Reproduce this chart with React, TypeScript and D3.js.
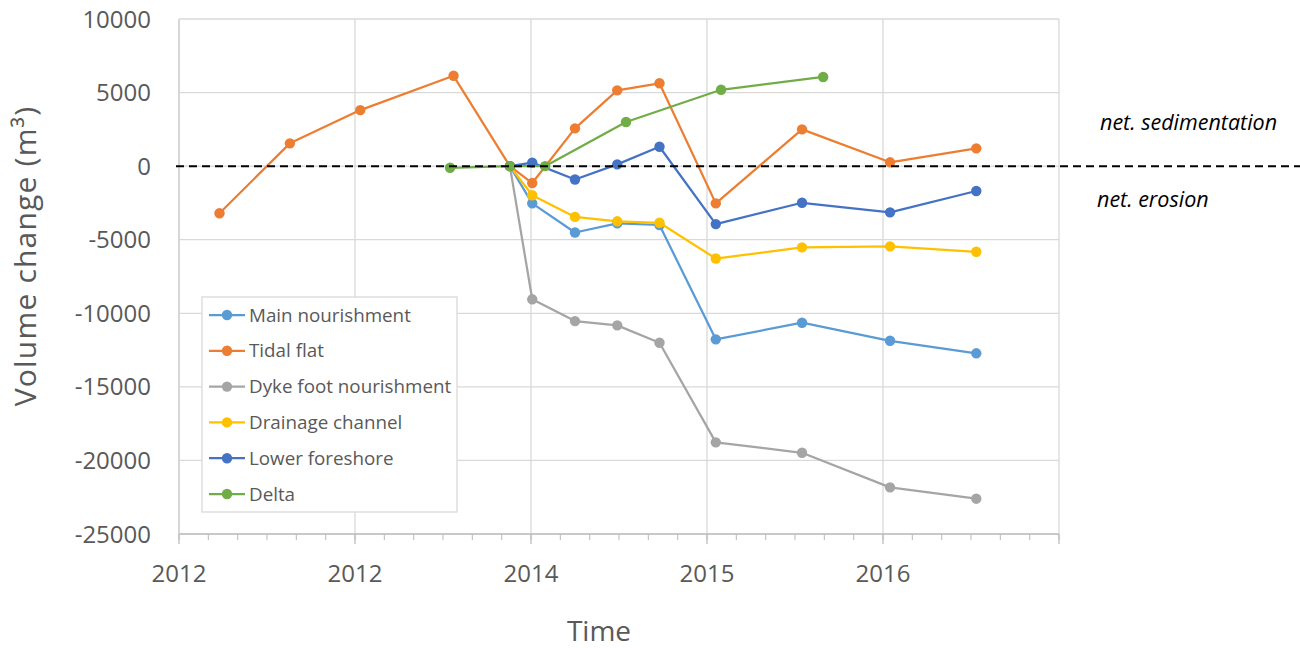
import React from "react";
import * as d3 from "d3";

// ---------- data ----------
const xTickValues = [2012, 2013, 2014, 2015, 2016, 2017];
const xTickLabels = ["2012", "2012", "2014", "2015", "2016", ""];
const yTickValues = [-25000, -20000, -15000, -10000, -5000, 0, 5000, 10000];

// survey dates (decimal years)
const surveyDates = [2013.88, 2014.007, 2014.25, 2014.49, 2014.73, 2015.05, 2015.54, 2016.04, 2016.53];
const tidalDates = [2012.23, 2012.63, 2013.03, 2013.56, ...surveyDates];
const deltaDates = [2013.54, 2013.88, 2014.08, 2014.54, 2015.08, 2015.66];

const mainNourishment = [0, -2530, -4510, -3890, -4000, -11770, -10640, -11870, -12720];
const tidalFlat = [-3200, 1550, 3810, 6140, 0, -1150, 2570, 5150, 5630, -2530, 2500, 260, 1210];
const dykeFoot = [0, -9050, -10530, -10820, -12000, -18770, -19480, -21830, -22600];
const drainageChannel = [0, -1980, -3450, -3750, -3850, -6280, -5520, -5450, -5820];
const lowerForeshore = [0, 240, -910, 120, 1320, -3940, -2490, -3140, -1690];
const delta = [-110, 0, 0, 3000, 5190, 6060];

const seriesNames = ["Main nourishment", "Tidal flat", "Dyke foot nourishment", "Drainage channel", "Lower foreshore", "Delta"];
const seriesColors = ["#5B9BD5", "#ED7D31", "#A5A5A5", "#FFC000", "#4472C4", "#70AD47"];
const seriesDates = [surveyDates, tidalDates, surveyDates, surveyDates, surveyDates, deltaDates];
const seriesValues = [mainNourishment, tidalFlat, dykeFoot, drainageChannel, lowerForeshore, delta];

// ---------- layout ----------
const W = 1300;
const H = 648;
const plotLeft = 179;
const plotRight = 1059;
const plotTop = 19;
const plotBottom = 534;
const FONT = "'Open Sans', 'Liberation Sans', sans-serif";

export default function App() {
  const x = d3.scaleLinear().domain([2012, 2017]).range([plotLeft, plotRight]);
  const y = d3.scaleLinear().domain([-25000, 10000]).range([plotBottom, plotTop]);

  const line = d3
    .line<[number, number]>()
    .x((d) => x(d[0]))
    .y((d) => y(d[1]));

  const minorTicks = d3.range(0, 31).map((i) => 2012 + i / 6).filter((v) => v <= 2017.0001);

  const legendX = 202;
  const legendY = 297;
  const legendW = 255;
  const legendH = 215;
  const rowGap = 35.8;

  return (
    <svg
      width={W}
      height={H}
      viewBox={`0 0 ${W} ${H}`}
      style={{ position: "absolute", left: 0, top: 0, background: "#fff" }}
    >
      <rect x={0} y={0} width={W} height={H} fill="#fff" />
      {/* horizontal gridlines */}
      {yTickValues.map((v) => (
        <line key={"hg" + v} x1={plotLeft} x2={plotRight} y1={y(v)} y2={y(v)} stroke="#D9D9D9" strokeWidth={1.3} />
      ))}
      {/* vertical gridlines */}
      {xTickValues.map((v) => (
        <line key={"vg" + v} x1={x(v)} x2={x(v)} y1={plotTop} y2={plotBottom} stroke="#D9D9D9" strokeWidth={1.3} />
      ))}
      {/* y axis line */}
      <line x1={plotLeft} x2={plotLeft} y1={plotTop} y2={plotBottom} stroke="#D0D0D0" strokeWidth={1.3} />
      {/* x axis line */}
      <line x1={plotLeft} x2={plotRight} y1={plotBottom} y2={plotBottom} stroke="#BFBFBF" strokeWidth={1.3} />
      {/* x ticks */}
      {xTickValues.map((v) => (
        <line key={"mt" + v} x1={x(v)} x2={x(v)} y1={plotBottom} y2={plotBottom + 10} stroke="#BFBFBF" strokeWidth={1.3} />
      ))}
      {minorTicks.map((v, i) => (
        <line key={"nt" + i} x1={x(v)} x2={x(v)} y1={plotBottom} y2={plotBottom + 6} stroke="#BFBFBF" strokeWidth={1.1} />
      ))}
      {/* y tick labels */}
      {yTickValues.map((v) => (
        <text
          key={"yl" + v}
          x={151}
          y={y(v) + 8.5}
          textAnchor="end"
          fontFamily={FONT}
          fontSize={24}
          fill="#595959"
        >
          {v}
        </text>
      ))}
      {/* x tick labels */}
      {xTickValues.map((v, i) => (
        <text
          key={"xl" + v}
          x={x(v)}
          y={582}
          textAnchor="middle"
          fontFamily={FONT}
          fontSize={24}
          fill="#595959"
        >
          {xTickLabels[i]}
        </text>
      ))}
      {/* axis titles */}
      <text x={599} y={641} textAnchor="middle" fontFamily={FONT} fontSize={28} fill="#595959">
        Time
      </text>
      <text
        transform={`translate(36, 256) rotate(-90)`}
        textAnchor="middle"
        fontFamily={FONT}
        fontSize={30}
        letterSpacing={1.2}
        fill="#595959"
      >
        Volume change (m³)
      </text>

      {/* series */}
      {seriesValues.map((vals, si) => {
        const pts: [number, number][] = vals.map((v, i) => [seriesDates[si][i], v]);
        return (
          <g key={"s" + si}>
            <path d={line(pts) || ""} fill="none" stroke={seriesColors[si]} strokeWidth={2.25} strokeLinejoin="round" />
            {pts.map((p, i) => (
              <circle key={i} cx={x(p[0])} cy={y(p[1])} r={5.2} fill={seriesColors[si]} />
            ))}
          </g>
        );
      })}

      {/* zero dashed line */}
      <line x1={176} x2={W} y1={y(0)} y2={y(0)} stroke="#000" strokeWidth={2} strokeDasharray="8,5" />

      {/* annotations */}
      <text x={1100} y={129.5} fontFamily={FONT} fontStyle="italic" fontSize={21.5} fill="#000">
        net. sedimentation
      </text>
      <text x={1097} y={206.5} fontFamily={FONT} fontStyle="italic" fontSize={21.5} fill="#000">
        net. erosion
      </text>

      {/* legend */}
      <rect x={legendX} y={legendY} width={legendW} height={legendH} fill="#fff" stroke="#D9D9D9" strokeWidth={1.3} />
      {seriesNames.map((name, i) => {
        const cy = legendY + 18 + i * rowGap;
        return (
          <g key={"lg" + i}>
            <line x1={209} x2={245} y1={cy} y2={cy} stroke={seriesColors[i]} strokeWidth={2.25} />
            <circle cx={227} cy={cy} r={5.2} fill={seriesColors[i]} />
            <text x={249} y={cy + 6.5} fontFamily={FONT} fontSize={18.8} fill="#595959">
              {name}
            </text>
          </g>
        );
      })}
    </svg>
  );
}
